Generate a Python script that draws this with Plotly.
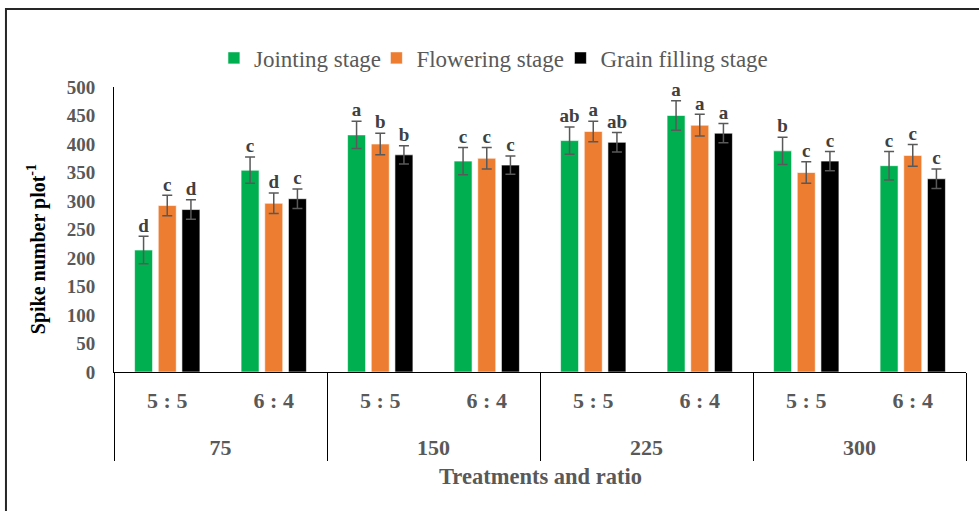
import plotly.graph_objects as go

# Nitrogen treatments and planting ratios (two-level category axis)
treatments = ["75", "75", "150", "150", "225", "225", "300", "300"]
ratios = ["5 : 5", "6 : 4", "5 : 5", "6 : 4", "5 : 5", "6 : 4", "5 : 5", "6 : 4"]

# Spike number per plot by growth stage
jointing = [214, 354, 416, 370, 406, 450, 388, 362]
flowering = [292, 296, 400, 375, 422, 433, 350, 380]
grain_filling = [285, 304, 381, 363, 403, 419, 370, 339]

# Standard errors
jointing_err = [24, 23, 24, 24, 24, 26, 24, 25]
flowering_err = [18, 18, 19, 19, 18, 19, 19, 19]
grain_filling_err = [17, 17, 16, 16, 17, 17, 17, 17]

# Significance letters
jointing_sig = ["d", "c", "a", "c", "ab", "a", "b", "c"]
flowering_sig = ["c", "d", "b", "c", "a", "a", "c", "c"]
grain_filling_sig = ["d", "c", "b", "c", "ab", "a", "c", "c"]

series = [
    ("Jointing stage", jointing, jointing_err, jointing_sig, "#00B050", "legend", 0.1173),
    ("Flowering stage", flowering, flowering_err, flowering_sig, "#ED7D31", "legend2", 0.3080),
    ("Grain filling stage", grain_filling, grain_filling_err, grain_filling_sig, "#000000", "legend3", 0.5240),
]

FONT = "Liberation Serif, Times New Roman, serif"
GRAY = "#595959"

# inner labels get an empty second line so the outer row sits lower
inner = [r + "<br>&nbsp;" for r in ratios]
x = [treatments, inner]

fig = go.Figure()

for i, (name, vals, errs, sig, color, leg, lx) in enumerate(series):
    fig.add_trace(go.Bar(
        name=name, x=x, y=vals, legend=leg,
        marker=dict(color=color, line=dict(color="rgba(255,255,255,0.6)", width=1)),
        error_y=dict(type="data", array=errs, visible=True,
                     color=GRAY, thickness=1.5, width=5),
        offsetgroup=str(i),
    ))

for i, (name, vals, errs, sig, color, leg, lx) in enumerate(series):
    fig.add_trace(go.Scatter(
        x=x, y=[v + e for v, e in zip(vals, errs)],
        mode="text", text=sig, textposition="top center",
        textfont=dict(family=FONT, size=19, color="#404040", weight="bold"),
        showlegend=False, hoverinfo="skip", offsetgroup=str(i),
    ))

legend_style = dict(
    orientation="h", xanchor="left", y=1.102, yanchor="middle",
    font=dict(family=FONT, size=23, color=GRAY), bgcolor="rgba(0,0,0,0)",
)

fig.update_layout(
    width=979, height=511,
    margin=dict(l=114, r=13, t=87, b=139),
    paper_bgcolor="white", plot_bgcolor="white",
    barmode="group", bargap=0.333, bargroupgap=0.24,
    scattermode="group", scattergap=0.333,
    font=dict(family=FONT, color=GRAY),
    legend=dict(x=series[0][6], **legend_style),
    legend2=dict(x=series[1][6], **legend_style),
    legend3=dict(x=series[2][6], **legend_style),
    showlegend=True,
)

fig.update_yaxes(
    range=[0, 500], dtick=50, showgrid=False, zeroline=False,
    showline=True, linecolor="black", linewidth=1,
    ticks="", ticklabelstandoff=14,
    tickfont=dict(family=FONT, size=19, color=GRAY, weight="bold"),
)

fig.update_xaxes(
    type="multicategory", showgrid=False,
    showline=True, linecolor="black", linewidth=1,
    showdividers=True, dividercolor="black", dividerwidth=1,
    ticks="", ticklabelstandoff=9,
    tickfont=dict(family=FONT, size=22, color=GRAY, weight="bold"),
)

# Axis titles
fig.add_annotation(
    text="Spike number plot<sup>-1</sup>", textangle=-90,
    xref="paper", yref="paper", x=-0.107, y=0.432,
    showarrow=False, font=dict(family=FONT, size=20, color="black", weight="bold"),
)
fig.add_annotation(
    text="Treatments and ratio",
    xref="paper", yref="paper", x=0.5, y=-0.367, yanchor="middle",
    showarrow=False, font=dict(family=FONT, size=22.5, color=GRAY, weight="bold"),
)

# Chart frame
fig.add_shape(
    type="rect", xref="paper", yref="paper",
    x0=-0.1268, x1=1.3, y0=-1.0, y1=1.2737,
    line=dict(color="#262626", width=2), fillcolor="rgba(0,0,0,0)", layer="below",
)

fig.write_html("out.html")
